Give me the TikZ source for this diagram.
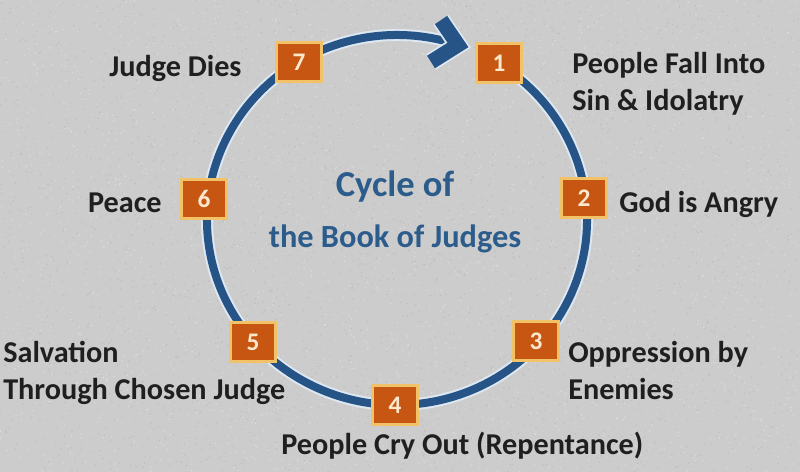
\documentclass[tikz,border=0pt]{standalone}
\usepackage{fontspec}
\setmainfont{Carlito}
\definecolor{cyclebg}{RGB}{204,204,204}
\definecolor{speckdark}{RGB}{190,190,192}
\definecolor{specklight}{RGB}{220,220,222}
\definecolor{cycleblue}{RGB}{38,84,134}
\definecolor{halo}{RGB}{222,232,242}
\definecolor{boxfill}{RGB}{198,86,18}
\definecolor{boxrim}{RGB}{242,194,104}
\definecolor{digit}{RGB}{252,232,205}
\definecolor{titleblue}{RGB}{44,92,140}
\begin{document}
\begin{tikzpicture}[x=0.025cm,y=0.025cm,
  numbox/.style={draw=boxrim, fill=boxfill, line width=1.8pt, minimum width=1.12cm, minimum height=0.98cm, inner sep=0pt, text=digit, font=\fontsize{18}{18}\selectfont\bfseries},
  lbl/.style={inner sep=0pt, font=\fontsize{21.5}{26}\selectfont\bfseries, text=black!88},
  ring/.style={cycleblue, line width=0.2cm, preaction={draw=halo, line width=0.3cm}},
  chev/.style={cycleblue, line width=0.37cm, preaction={draw=halo, line width=0.46cm}}]
\useasboundingbox (0,0) rectangle (800,472);
\fill[cyclebg] (0,0) rectangle (800,472);
% speckled background
\pgfmathsetseed{7}
\foreach \k in {1,...,2600}{
  \pgfmathsetmacro\px{800*rnd}\pgfmathsetmacro\py{472*rnd}
  \fill[speckdark] (\px,\py) circle (0.8);
}
\foreach \k in {1,...,2600}{
  \pgfmathsetmacro\px{800*rnd}\pgfmathsetmacro\py{472*rnd}
  \fill[specklight] (\px,\py) circle (0.8);
}
%
\coordinate (O) at (397,252);
\draw[ring] (O) ++(60:190 and 185) arc[start angle=60, end angle=-286, x radius=190, y radius=185];
\draw[chev] (441,452) -- (458,427) -- (431,410);
%
\node[text=titleblue, align=center, anchor=north, inner sep=0pt, font=\fontsize{23}{36}\selectfont\bfseries] (title) at (395,301)
  {{\fontsize{26}{36}\selectfont Cycle of}\\the Book of Judges};
%
\node[numbox] (b1) at (499,409) {1};
\node[numbox] (b2) at (584,274) {2};
\node[numbox] (b3) at (536,131) {3};
\node[numbox] (b4) at (395,67) {4};
\node[numbox] (b5) at (253,130) {5};
\node[numbox] (b6) at (204,273) {6};
\node[numbox] (b7) at (299,410) {7};
%
\node[lbl, anchor=north west, align=left] (l1) at (572,420) {People Fall Into\\Sin \& Idolatry};
\node[lbl, anchor=base west] (l2) at (619,259) {God is Angry};
\node[lbl, anchor=north west, align=left] (l3) at (568,131) {Oppression by\\Enemies};
\node[lbl, anchor=base west] (l4) at (281,17) {People Cry Out (Repentance)};
\node[lbl, anchor=north west, align=left] (l5) at (3,131) {Salvation\\Through Chosen Judge};
\node[lbl, anchor=base east] (l6) at (162,259) {Peace};
\node[lbl, anchor=base west] (l7) at (109,395) {Judge Dies};
\end{tikzpicture}
\end{document}
